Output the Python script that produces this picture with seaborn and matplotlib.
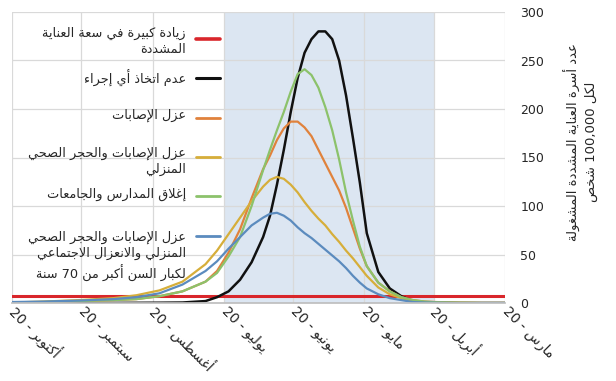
import re
import numpy as np
import pandas as pd
import seaborn as sns
import matplotlib
matplotlib.use('Agg')
import matplotlib.pyplot as plt
import matplotlib.transforms as mtransforms
from matplotlib.lines import Line2D

# days after 20 March
days = [0, 10, 20, 30, 35, 40, 45, 50, 55, 60, 63, 66, 69, 72, 75, 78, 81, 84, 87, 90,
        93, 96, 99, 102, 105, 110, 115, 120, 125, 130, 140, 150, 160, 170, 185, 200, 214]

no_action = [0, 0, 0, 0.3, 0.5, 2, 7, 15, 32, 72, 124, 170, 214, 250, 272, 280, 280, 272, 258, 232,
             197, 158, 122, 90, 68, 42, 24, 12, 6, 2, 0.5, 0.3, 0.2, 0.1, 0, 0, 0]
isolation = [0, 0, 0.3, 1, 1.5, 3, 6, 12, 21, 38, 56, 77, 98, 116, 130, 144, 158, 172, 181, 187,
             187, 180, 168, 152, 138, 108, 76, 52, 33, 22, 12, 7, 4, 3, 2, 1, 0.5]
isolation_home = [0, 0, 0.2, 0.5, 1, 2, 5, 9, 16, 28, 37, 46, 54, 63, 71, 80, 87, 95, 104, 114,
                  122, 128, 130, 127, 120, 105, 88, 71, 54, 40, 22, 13, 8, 5, 3, 1.5, 0.5]
schools = [0, 0, 0.3, 0.8, 1.5, 3, 6, 12, 21, 38, 58, 85, 114, 148, 178, 202, 222, 235, 241, 236,
           218, 197, 178, 158, 137, 100, 68, 48, 31, 22, 12, 7, 4, 3, 2, 1, 0.5]
isolation_home_elderly = [0, 0, 0, 0.2, 0.5, 1, 3, 5, 9, 15, 21, 28, 36, 43, 49, 55, 61, 67, 72, 78,
                          85, 90, 93, 92, 88, 80, 68, 56, 43, 33, 19, 10, 6, 4, 2.5, 1.5, 1]
icu_capacity = [7] * len(days)

shade_start, shade_end = 31, 122  # 20 April .. 20 July

month_days = [0, 31, 61, 92, 122, 153, 184, 214]
month_names = ['مارس', 'أبريل', 'مايو', 'يونيو', 'يوليو', 'أغسطس', 'سبتمبر', 'أكتوبر']

series_names = [
    'زيادة كبيرة في سعة العناية\nالمشددة',
    'عدم اتخاذ أي إجراء',
    'عزل الإصابات',
    'عزل الإصابات والحجر الصحي\nالمنزلي',
    'إغلاق المدارس والجامعات',
    'عزل الإصابات والحجر الصحي\nالمنزلي والانعزال الاجتماعي\nلكبار السن أكبر من 70 سنة',
]
series_values = [icu_capacity, no_action, isolation, isolation_home, schools, isolation_home_elderly]
colors = ['#D9262B', '#111111', '#E0823C', '#D6AE3A', '#8CC26B', '#5B8BBE']
widths = [2.2, 1.8, 1.6, 1.6, 1.6, 1.6]

ylabel = 'عدد أسرة العناية المشددة المشغولة\nلكل 100,000 شخص'

# minimal arabic shaping: presentation forms + right-to-left order
FORMS = {
    'ء': (0xFE80, 0), 'آ': (0xFE81, 1), 'أ': (0xFE83, 1), 'ؤ': (0xFE85, 1), 'إ': (0xFE87, 1),
    'ئ': (0xFE89, 2), 'ا': (0xFE8D, 1), 'ب': (0xFE8F, 2), 'ة': (0xFE93, 1), 'ت': (0xFE95, 2),
    'ث': (0xFE99, 2), 'ج': (0xFE9D, 2), 'ح': (0xFEA1, 2), 'خ': (0xFEA5, 2), 'د': (0xFEA9, 1),
    'ذ': (0xFEAB, 1), 'ر': (0xFEAD, 1), 'ز': (0xFEAF, 1), 'س': (0xFEB1, 2), 'ش': (0xFEB5, 2),
    'ص': (0xFEB9, 2), 'ض': (0xFEBD, 2), 'ط': (0xFEC1, 2), 'ظ': (0xFEC5, 2), 'ع': (0xFEC9, 2),
    'غ': (0xFECD, 2), 'ف': (0xFED1, 2), 'ق': (0xFED5, 2), 'ك': (0xFED9, 2), 'ل': (0xFEDD, 2),
    'م': (0xFEE1, 2), 'ن': (0xFEE5, 2), 'ه': (0xFEE9, 2), 'و': (0xFEED, 1), 'ى': (0xFEEF, 1),
    'ي': (0xFEF1, 2),
}
LAM_ALEF = {'آ': 0xFEF5, 'أ': 0xFEF7, 'إ': 0xFEF9, 'ا': 0xFEFB}


def shape_line(s):
    out = []
    i = 0
    while i < len(s):
        c = s[i]
        if c not in FORMS:
            out.append(c)
            i += 1
            continue
        prev = s[i - 1] if i > 0 else ''
        base, kind = FORMS[c]
        joins_prev = kind != 0 and prev in FORMS and FORMS[prev][1] == 2
        if c == 'ل' and i + 1 < len(s) and s[i + 1] in LAM_ALEF:
            out.append(chr(LAM_ALEF[s[i + 1]] + (1 if joins_prev else 0)))
            i += 2
            continue
        nxt = s[i + 1] if i + 1 < len(s) else ''
        joins_next = kind == 2 and nxt in FORMS and FORMS[nxt][1] != 0
        if kind == 0:
            code = base
        elif joins_prev and joins_next:
            code = base + 3
        elif joins_prev:
            code = base + 1
        elif joins_next:
            code = base + 2
        else:
            code = base
        out.append(chr(code))
        i += 1
    vis = ''.join(out)[::-1]
    return re.sub(r'[0-9][0-9,.]*[0-9]|[0-9]', lambda m: m.group(0)[::-1], vis)


def ar(s):
    return '\n'.join(shape_line(line) for line in s.split('\n'))


rows = []
for name, vals in zip(series_names, series_values):
    for d, v in zip(days, vals):
        rows.append({'day': d, 'value': v, 'series': name})
df = pd.DataFrame(rows)

sns.set_theme(style='white')
plt.rcParams['font.family'] = ['DejaVu Sans']

fig = plt.figure(figsize=(6.16, 3.81), dpi=100)
ax = fig.add_axes([12 / 616, 1 - 303 / 381, 493 / 616, 291 / 381])

ax.axvspan(shade_start, shade_end, color='#DCE6F2', zorder=0.2, lw=0)

for name, col, lw in zip(series_names, colors, widths):
    sns.lineplot(data=df[df['series'] == name], x='day', y='value', color=col,
                 linewidth=lw, ax=ax, legend=False)

ax.set_xlim(214, 0)
ax.set_ylim(0, 300)
ax.set_xticks(month_days)
ax.set_xticklabels([ar(f'{m} - 20') for m in month_names], rotation=-45,
                   ha='left', va='center', rotation_mode='anchor', fontsize=10)
shift = mtransforms.ScaledTranslation(3 / 100, 0, fig.dpi_scale_trans)
for lab in ax.get_xticklabels():
    lab.set_transform(lab.get_transform() + shift)
ax.set_yticks(range(0, 301, 50))
ax.yaxis.tick_right()
ax.tick_params(axis='y', length=0, pad=11, labelsize=9)
ax.tick_params(axis='x', length=0, pad=4)
ax.set_xlabel('')
ax.set_ylabel('')
ax.grid(True, color='#D9D9D9', linewidth=0.9)
ax.set_axisbelow(True)
for side in ['left', 'right', 'top']:
    ax.spines[side].set_visible(False)
ax.spines['bottom'].set_color('#BFBFBF')

# legend drawn right to left inside the plot
handle_y = [39, 78, 118, 157, 196, 236]
text_y = [27, 70, 109, 147, 188, 231]
for name, col, lw, hy, ty in zip(series_names, colors, widths, handle_y, text_y):
    fig.add_artist(Line2D([196 / 616, 220 / 616], [1 - hy / 381, 1 - hy / 381],
                          color=col, linewidth=lw + 0.4))
    fig.text(186 / 616, 1 - ty / 381, ar(name), ha='right', va='top',
             multialignment='right', fontsize=9.3, linespacing=1.3)

fig.text(581 / 616, 1 - 142 / 381, ar(ylabel), rotation=90, ha='center', va='center',
         multialignment='center', fontsize=9.5, linespacing=1.35)

fig.savefig('out.png', dpi=100)
